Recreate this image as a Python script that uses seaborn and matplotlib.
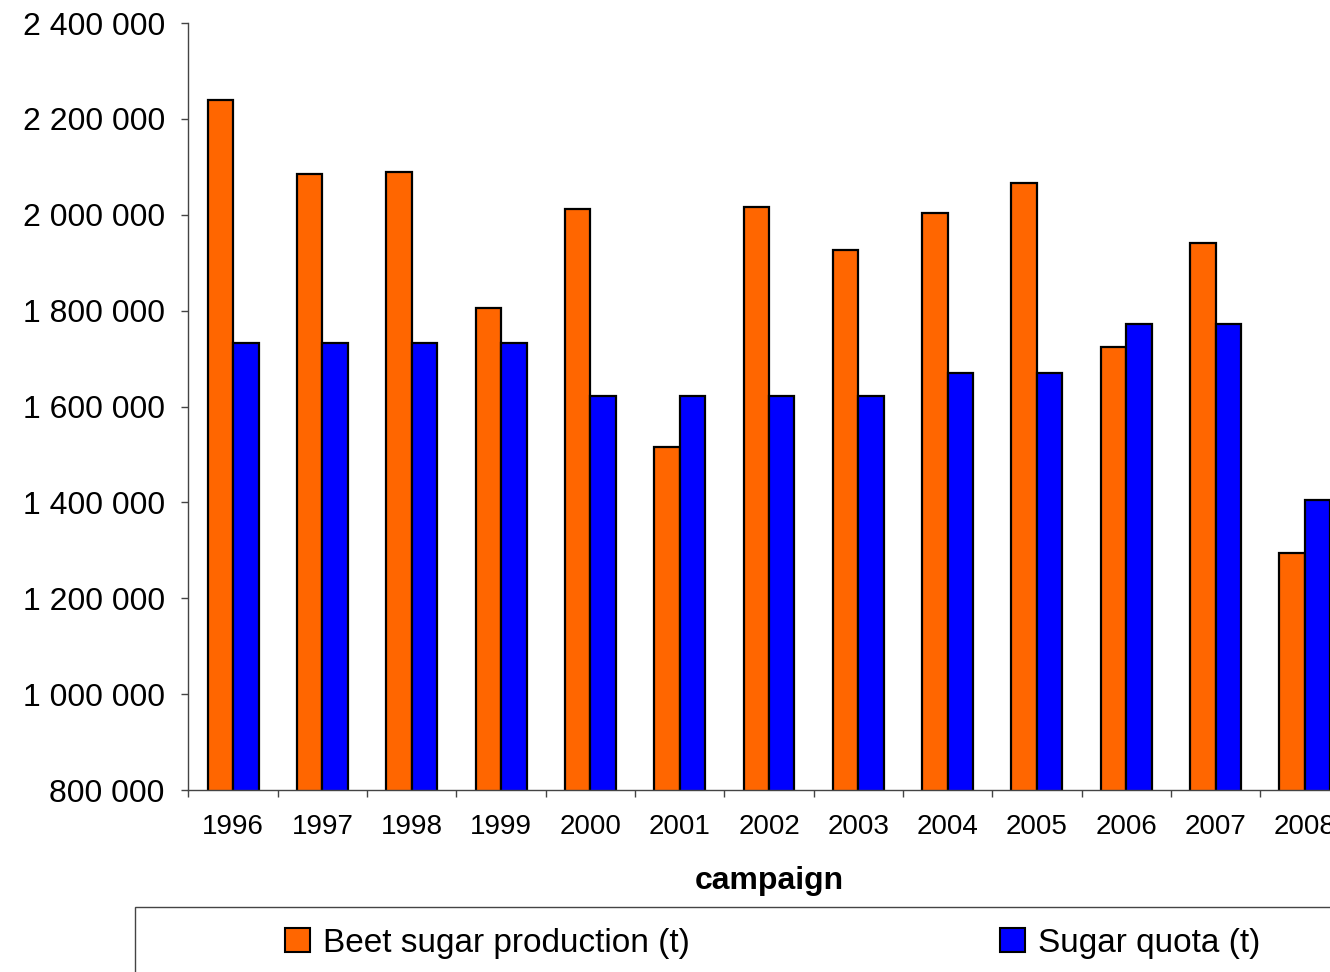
import matplotlib
matplotlib.use("Agg")
import matplotlib.pyplot as plt
import matplotlib.ticker as mticker
from matplotlib.patches import Rectangle
import pandas as pd
import seaborn as sns

years = ["1996", "1997", "1998", "1999", "2000", "2001", "2002",
         "2003", "2004", "2005", "2006", "2007", "2008"]
production = [2240000, 2086000, 2090000, 1806000, 2013000, 1516000, 2017000,
              1927000, 2004000, 2067000, 1725000, 1942000, 1295000]
quota = [1733000, 1733000, 1733000, 1733000, 1622000, 1622000, 1622000,
         1622000, 1670000, 1670000, 1773000, 1773000, 1406000]
series = ["Beet sugar production (t)", "Sugar quota (t)"]
colors = ["#FF6600", "#0000FF"]

df = pd.DataFrame({
    "campaign": years * 2,
    "value": production + quota,
    "series": [series[0]] * len(years) + [series[1]] * len(years),
})

sns.set_style("white")
plt.rcParams["font.family"] = ["Liberation Sans", "DejaVu Sans"]

fig = plt.figure(figsize=(13.3, 9.72), dpi=100)
ax = fig.add_axes([0.1417, 0.1872, 0.8730, 0.7891])

sns.barplot(data=df, x="campaign", y="value", hue="series", palette=colors,
            saturation=1, width=0.57, edgecolor="black", linewidth=1.6,
            legend=False, ax=ax)

ax.set_xlim(-0.5, len(years) - 0.5)
ax.set_ylim(800000, 2400000)
ax.yaxis.set_major_locator(mticker.MultipleLocator(200000))
ax.yaxis.set_major_formatter(
    mticker.FuncFormatter(lambda v, p: f"{int(v):,}".replace(",", " ")))

# tick marks between categories, labels centred
ax.set_xticks([i - 0.5 for i in range(len(years) + 1)], minor=True)
ax.tick_params(axis="x", which="major", length=0, pad=17, labelsize=20,
               labelcolor="black")
ax.tick_params(axis="x", which="minor", length=5, width=1, color="#444444",
               direction="out", bottom=True)
ax.tick_params(axis="y", length=5, width=1, color="#444444", direction="out",
               left=True, pad=12, labelsize=23, labelcolor="black")

for s in ["top", "right"]:
    ax.spines[s].set_visible(False)
for s in ["left", "bottom"]:
    ax.spines[s].set_color("#444444")
    ax.spines[s].set_linewidth(1)

ax.set_xlabel("campaign", fontsize=23, fontweight="bold", labelpad=19,
              color="black")
ax.set_ylabel("")
ax.grid(False)

# legend box running off the bottom right edge
fig.patches.append(Rectangle((135 / 1330, -0.02), 1.0, (972 - 907) / 972 + 0.02,
                             transform=fig.transFigure, fill=False,
                             edgecolor="#444444", linewidth=1))
handles = [Rectangle((0, 0), 1, 1, facecolor=c, edgecolor="black", linewidth=1.5)
           for c in colors]
starts = [285, 1000]
for h, lab, x0 in zip(handles, series, starts):
    fig.legend([h], [lab], loc="center left",
               bbox_to_anchor=(x0 / 1330, 1 - 943 / 972), frameon=False,
               fontsize=24, handlelength=0.75, handleheight=0.75,
               handletextpad=0.4, borderpad=0, borderaxespad=0,
               labelcolor="black")

fig.savefig("out.png", dpi=100)
